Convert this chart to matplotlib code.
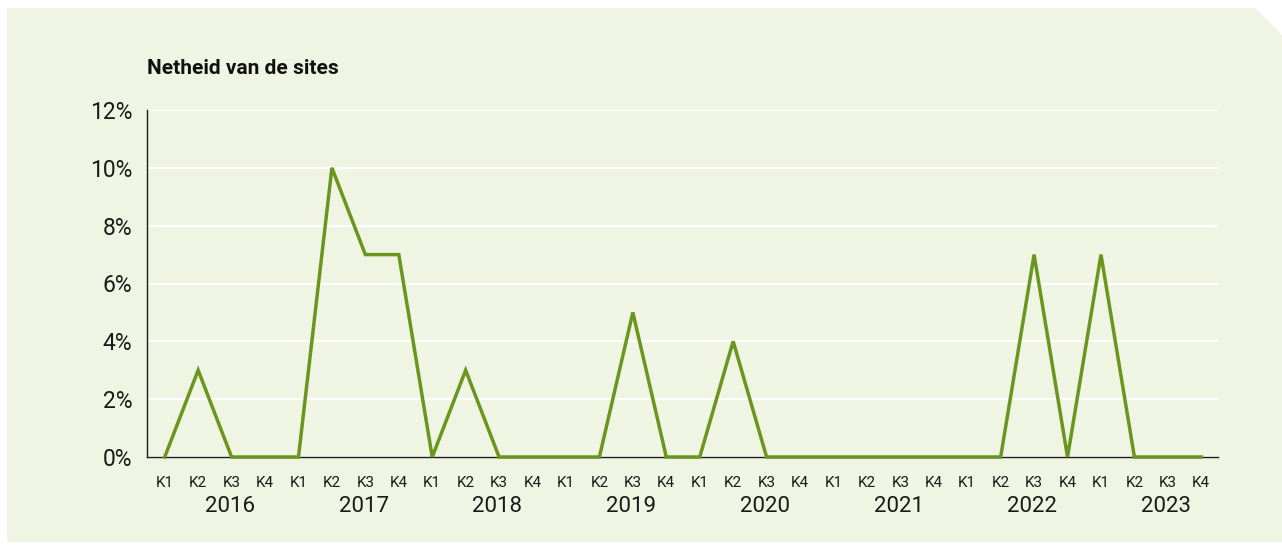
import matplotlib
matplotlib.use("Agg")
import matplotlib.pyplot as plt
from matplotlib.patches import Polygon

years = ["2016", "2017", "2018", "2019", "2020", "2021", "2022", "2023"]
quarters = ["K1", "K2", "K3", "K4"]
values = [0, 3, 0, 0,
          0, 10, 7, 7,
          0, 3, 0, 0,
          0, 0, 5, 0,
          0, 4, 0, 0,
          0, 0, 0, 0,
          0, 0, 7, 0,
          7, 0, 0, 0]
yticks = [0, 2, 4, 6, 8, 10, 12]
title = "Netheid van de sites"

BG = "#f0f5e3"
LINE = "#6a961f"
FONT = "Roboto"
TXT = "#1a1a1a"

W, H = 1282, 547
fig = plt.figure(figsize=(W / 100, H / 100), dpi=100)
fig.patch.set_facecolor("white")

def fx(px):
    return px / W
def fy(py):
    return 1 - py / H

panel = Polygon([(fx(7), fy(8)), (fx(1255), fy(8)), (fx(1282), fy(35)),
                 (fx(1282), fy(542)), (fx(7), fy(542))],
                closed=True, transform=fig.transFigure, facecolor=BG,
                edgecolor="none", zorder=-10)
fig.patches.append(panel)

AX_TOP, AX_BOT = 110, 457
ax = fig.add_axes([fx(147), fy(AX_BOT), fx(1218) - fx(147), fy(AX_TOP) - fy(AX_BOT)])
ax.set_zorder(5)
ax.set_facecolor("none")

x = list(range(len(values)))
ax.plot(x, values, color=LINE, lw=2.5, solid_joinstyle="miter", zorder=3, clip_on=False)

ax.set_xlim(-0.53, 31.5)
ax.set_ylim(0, 12)
ax.set_yticks(yticks)
ax.set_yticklabels([f"{v}%" for v in yticks], fontsize=16.5, family=FONT, color=TXT)
ax.yaxis.grid(True, color="white", lw=1.5)
ax.set_axisbelow(True)
ax.tick_params(axis="y", length=0, pad=10.5)

ax.set_xticks(x)
ax.set_xticklabels([])
ax.tick_params(axis="x", length=0)

for s in ["top", "right"]:
    ax.spines[s].set_visible(False)
for s in ["left", "bottom"]:
    ax.spines[s].set_color(TXT)
    ax.spines[s].set_linewidth(1.0)

axh = AX_BOT - AX_TOP
tr = ax.get_xaxis_transform()
for i in x:
    ax.text(i, -(483 - AX_BOT) / axh, quarters[i % 4], ha="center", va="center",
            fontsize=11, family=FONT, color=TXT, transform=tr)

for k, yr in enumerate(years):
    ax.text(4 * k + 1.95, -(507 - AX_BOT) / axh, yr, ha="center", va="center",
            fontsize=16, family=FONT, color=TXT, transform=tr)

fig.text(fx(147), fy(68), title, ha="left", va="center", fontsize=15,
         fontweight="bold", family=FONT, color="#111111")

fig.savefig("out.png", dpi=100, facecolor=fig.get_facecolor())
